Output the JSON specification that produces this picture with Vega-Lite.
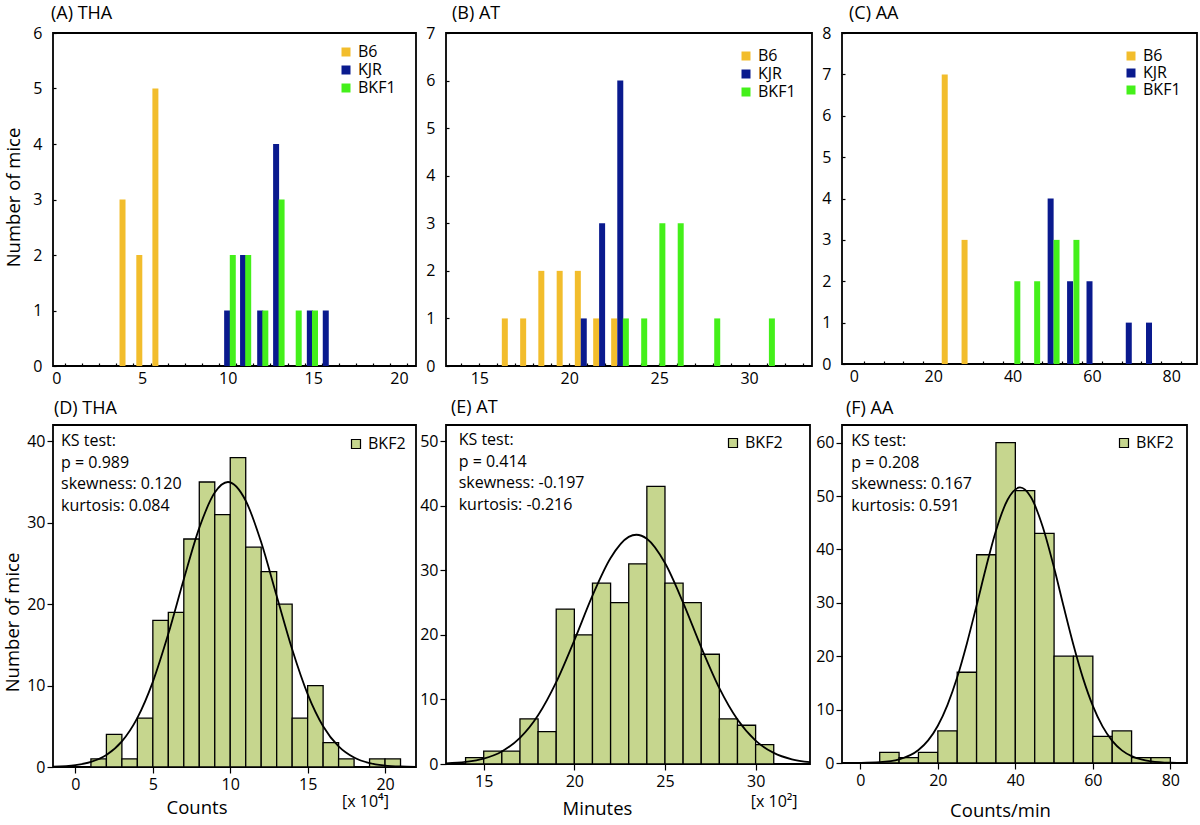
{
  "$schema": "https://vega.github.io/schema/vega-lite/v6.json",
  "background": "white",
  "padding": {"left": 2, "top": 3, "right": 0, "bottom": 0},
  "columns": 3,
  "spacing": {"row": 59, "column": 30},
  "bounds": "flush",
  "align": "each",
  "resolve": {"scale": {"color": "independent"}, "legend": {"color": "independent"}},
  "config": {
    "font": "Open Sans",
    "view": {"stroke": "black", "strokeWidth": 1.8},
    "axis": {"domain": false, "grid": false, "tickColor": "black", "tickWidth": 1.2, "labelColor": "black", "labelFont": "Open Sans", "labelFontSize": 16, "titleFont": "Open Sans", "titleFontSize": 18.5, "titleFontWeight": "normal", "titleColor": "black", "labelFlush": false, "labelOverlap": false},
    "legend": {"orient": "none", "labelFont": "Open Sans", "labelFontSize": 16, "labelColor": "black", "symbolType": "square", "symbolSize": 81, "rowPadding": 2},
    "title": {"font": "Open Sans", "fontSize": 18, "fontWeight": "normal", "color": "black", "anchor": "start", "frame": "group", "baseline": "alphabetic"}
  },
  "datasets": {
    "tha1": [
      {"strain": "B6", "x": 3.86, "n": 3}, {"strain": "B6", "x": 4.84, "n": 2}, {"strain": "B6", "x": 5.78, "n": 5},
      {"strain": "KJR", "x": 9.97, "n": 1}, {"strain": "KJR", "x": 10.9, "n": 2}, {"strain": "KJR", "x": 11.9, "n": 1}, {"strain": "KJR", "x": 12.83, "n": 4}, {"strain": "KJR", "x": 14.8, "n": 1}, {"strain": "KJR", "x": 15.73, "n": 1},
      {"strain": "BKF1", "x": 10.3, "n": 2}, {"strain": "BKF1", "x": 11.2, "n": 2}, {"strain": "BKF1", "x": 12.2, "n": 1}, {"strain": "BKF1", "x": 13.15, "n": 3}, {"strain": "BKF1", "x": 14.15, "n": 1}, {"strain": "BKF1", "x": 15.1, "n": 1}
    ],
    "at1": [
      {"strain": "B6", "x": 16.42, "n": 1}, {"strain": "B6", "x": 17.44, "n": 1}, {"strain": "B6", "x": 18.45, "n": 2}, {"strain": "B6", "x": 19.47, "n": 2}, {"strain": "B6", "x": 20.48, "n": 2}, {"strain": "B6", "x": 21.5, "n": 1}, {"strain": "B6", "x": 22.5, "n": 1},
      {"strain": "KJR", "x": 20.81, "n": 1}, {"strain": "KJR", "x": 21.83, "n": 3}, {"strain": "KJR", "x": 22.84, "n": 6},
      {"strain": "BKF1", "x": 23.15, "n": 1}, {"strain": "BKF1", "x": 24.17, "n": 1}, {"strain": "BKF1", "x": 25.18, "n": 3}, {"strain": "BKF1", "x": 26.2, "n": 3}, {"strain": "BKF1", "x": 28.23, "n": 1}, {"strain": "BKF1", "x": 31.27, "n": 1}
    ],
    "aa1": [
      {"strain": "B6", "x": 22.9, "n": 7}, {"strain": "B6", "x": 27.9, "n": 3},
      {"strain": "KJR", "x": 49.6, "n": 4}, {"strain": "KJR", "x": 54.5, "n": 2}, {"strain": "KJR", "x": 59.4, "n": 2}, {"strain": "KJR", "x": 69.3, "n": 1}, {"strain": "KJR", "x": 74.4, "n": 1},
      {"strain": "BKF1", "x": 41.2, "n": 2}, {"strain": "BKF1", "x": 46.2, "n": 2}, {"strain": "BKF1", "x": 51.1, "n": 3}, {"strain": "BKF1", "x": 56.1, "n": 3}
    ],
    "tha2": [
      {"x": 1, "x2": 2, "y": 1}, {"x": 2, "x2": 3, "y": 4}, {"x": 3, "x2": 4, "y": 1}, {"x": 4, "x2": 5, "y": 6}, {"x": 5, "x2": 6, "y": 18},
      {"x": 6, "x2": 7, "y": 19}, {"x": 7, "x2": 8, "y": 28}, {"x": 8, "x2": 9, "y": 35}, {"x": 9, "x2": 10, "y": 31}, {"x": 10, "x2": 11, "y": 38},
      {"x": 11, "x2": 12, "y": 27}, {"x": 12, "x2": 13, "y": 24}, {"x": 13, "x2": 14, "y": 20}, {"x": 14, "x2": 15, "y": 6}, {"x": 15, "x2": 16, "y": 10},
      {"x": 16, "x2": 17, "y": 3}, {"x": 17, "x2": 18, "y": 1}, {"x": 19, "x2": 20, "y": 1}, {"x": 20, "x2": 21, "y": 1}
    ],
    "tha2c": [
      {"x": -1.45, "y": 0.05}, {"x": 0, "y": 0.24}, {"x": 1, "y": 0.63}, {"x": 2, "y": 1.48}, {"x": 3, "y": 3.14}, {"x": 4, "y": 6.03},
      {"x": 5, "y": 10.46}, {"x": 6, "y": 16.35}, {"x": 7, "y": 23.06}, {"x": 8, "y": 29.36}, {"x": 9, "y": 33.7}, {"x": 9.85, "y": 35},
      {"x": 11, "y": 32.7}, {"x": 12, "y": 27.6}, {"x": 13, "y": 21.0}, {"x": 14, "y": 14.46}, {"x": 15, "y": 8.96}, {"x": 16, "y": 5.01},
      {"x": 17, "y": 2.53}, {"x": 18, "y": 1.16}, {"x": 19, "y": 0.47}, {"x": 20, "y": 0.18}, {"x": 21, "y": 0.06}, {"x": 22, "y": 0.02}
    ],
    "tha2t": [
      {"x": -0.93, "y": 39.37, "t": "KS test:\np = 0.989\nskewness: 0.120\nkurtosis: 0.084"},
      {"x": 17.22, "y": -4.91, "t": "[x 10⁴]"}
    ],
    "at2": [
      {"x": 14, "x2": 15, "y": 1}, {"x": 15, "x2": 16, "y": 2}, {"x": 16, "x2": 17, "y": 2}, {"x": 17, "x2": 18, "y": 7}, {"x": 18, "x2": 19, "y": 5},
      {"x": 19, "x2": 20, "y": 24}, {"x": 20, "x2": 21, "y": 20}, {"x": 21, "x2": 22, "y": 28}, {"x": 22, "x2": 23, "y": 25}, {"x": 23, "x2": 24, "y": 31},
      {"x": 24, "x2": 25, "y": 43}, {"x": 25, "x2": 26, "y": 28}, {"x": 26, "x2": 27, "y": 25}, {"x": 27, "x2": 28, "y": 17}, {"x": 28, "x2": 29, "y": 7},
      {"x": 29, "x2": 30, "y": 6}, {"x": 30, "x2": 31, "y": 3}
    ],
    "at2c": [
      {"x": 12.92, "y": 0.11}, {"x": 14, "y": 0.33}, {"x": 15, "y": 0.84}, {"x": 16, "y": 1.95}, {"x": 17, "y": 4.04}, {"x": 18, "y": 7.54},
      {"x": 19, "y": 12.67}, {"x": 20, "y": 19.16}, {"x": 21, "y": 26.07}, {"x": 22, "y": 31.9}, {"x": 23, "y": 35.17}, {"x": 23.42, "y": 35.5},
      {"x": 24, "y": 34.88}, {"x": 25, "y": 31.12}, {"x": 26, "y": 24.99}, {"x": 27, "y": 18.07}, {"x": 28, "y": 11.75}, {"x": 29, "y": 6.88},
      {"x": 30, "y": 3.62}, {"x": 31, "y": 1.72}, {"x": 32, "y": 0.73}, {"x": 33, "y": 0.28}
    ],
    "at2t": [
      {"x": 13.62, "y": 49.34, "t": "KS test:\np = 0.414\nskewness: -0.197\nkurtosis: -0.216"},
      {"x": 29.73, "y": -6.66, "t": "[x 10²]"}
    ],
    "aa2": [
      {"x": 5, "x2": 10, "y": 2}, {"x": 10, "x2": 15, "y": 1}, {"x": 15, "x2": 20, "y": 2}, {"x": 20, "x2": 25, "y": 6}, {"x": 25, "x2": 30, "y": 17},
      {"x": 30, "x2": 35, "y": 39}, {"x": 35, "x2": 40, "y": 60}, {"x": 40, "x2": 45, "y": 51}, {"x": 45, "x2": 50, "y": 43}, {"x": 50, "x2": 55, "y": 20},
      {"x": 55, "x2": 60, "y": 20}, {"x": 60, "x2": 65, "y": 5}, {"x": 65, "x2": 70, "y": 6}, {"x": 70, "x2": 75, "y": 1}, {"x": 75, "x2": 80, "y": 1}
    ],
    "aa2c": [
      {"x": -4.7, "y": 0.0}, {"x": 0, "y": 0.03}, {"x": 5, "y": 0.15}, {"x": 10, "y": 0.68}, {"x": 15, "y": 2.43}, {"x": 17.5, "y": 4.23},
      {"x": 20, "y": 6.98}, {"x": 22.5, "y": 10.9}, {"x": 25, "y": 16.05}, {"x": 27.5, "y": 22.4}, {"x": 30, "y": 29.5}, {"x": 32.5, "y": 36.8},
      {"x": 35, "y": 43.5}, {"x": 38, "y": 49.3}, {"x": 41.2, "y": 51.6}, {"x": 44, "y": 49.8}, {"x": 47, "y": 44.4}, {"x": 50, "y": 36.56},
      {"x": 52.5, "y": 29.2}, {"x": 55, "y": 22.1}, {"x": 57.5, "y": 15.8}, {"x": 60, "y": 10.7}, {"x": 62.5, "y": 6.85}, {"x": 65, "y": 4.15},
      {"x": 67.5, "y": 2.37}, {"x": 70, "y": 1.29}, {"x": 72.5, "y": 0.66}, {"x": 75, "y": 0.32}, {"x": 80, "y": 0.06}, {"x": 84.3, "y": 0.01}
    ],
    "aa2t": [
      {"x": -2.33, "y": 59.29, "t": "KS test:\np = 0.208\nskewness: 0.167\nkurtosis: 0.591"}
    ]
  },
  "concat": [
    {
      "width": 363, "height": 333,
      "title": {"text": "(A) THA", "offset": 2.5, "dx": -2},
      "data": {"name": "tha1"},
      "mark": {"type": "bar", "size": 6, "orient": "vertical"},
      "encoding": {
        "x": {"field": "x", "type": "quantitative", "scale": {"domain": [-0.2, 21], "nice": false, "zero": false, "padding": 0},
          "axis": {"title": null, "values": [0,0.5,1,1.5,2,2.5,3,3.5,4,4.5,5,5.5,6,6.5,7,7.5,8,8.5,9,9.5,10,10.5,11,11.5,12,12.5,13,13.5,14,14.5,15,15.5,16,16.5,17,17.5,18,18.5,19,19.5,20,20.5],
            "labelExpr": "datum.value % 5 === 0 ? '' + datum.value : ''", "tickSize": -3, "labelPadding": 7.8,
            "tickOpacity": {"condition": {"test": "datum.value % 1 !== 0", "value": 1}, "value": 0}}},
        "y": {"field": "n", "type": "quantitative", "scale": {"domain": [0, 6], "nice": false},
          "axis": {"title": "Number of mice", "values": [0,1,2,3,4,5,6], "tickSize": -3, "labelPadding": 14, "titleX": -34, "titleY": 164, "titleBaseline": "alphabetic"}},
        "color": {"field": "strain", "type": "nominal", "scale": {"domain": ["B6", "KJR", "BKF1"], "range": ["#f2bd2c", "#0a1a8e", "#44f01a"]},
          "legend": {"title": null, "legendX": 285, "legendY": 11, "labelFontSize": 16, "symbolSize": 81, "symbolType": "square", "rowPadding": 2}}
      }
    },
    {
      "width": 366, "height": 333,
      "title": {"text": "(B) AT", "offset": 2.5, "dx": 6},
      "data": {"name": "at1"},
      "mark": {"type": "bar", "size": 6, "orient": "vertical"},
      "encoding": {
        "x": {"field": "x", "type": "quantitative", "scale": {"domain": [13.15, 33.5], "nice": false, "zero": false, "padding": 0},
          "axis": {"title": null, "values": [14,15,16,17,18,19,20,21,22,23,24,25,26,27,28,29,30,31,32,33],
            "labelExpr": "datum.value % 5 === 0 ? '' + datum.value : ''", "tickSize": -3, "labelPadding": 7.8}},
        "y": {"field": "n", "type": "quantitative", "scale": {"domain": [0, 7], "nice": false},
          "axis": {"title": null, "values": [0,1,2,3,4,5,6,7], "tickSize": -3, "labelPadding": 14}},
        "color": {"field": "strain", "type": "nominal", "scale": {"domain": ["B6", "KJR", "BKF1"], "range": ["#f2bd2c", "#0a1a8e", "#44f01a"]},
          "legend": {"title": null, "legendX": 292, "legendY": 15, "labelFontSize": 16, "symbolSize": 81, "symbolType": "square", "rowPadding": 2}}
      }
    },
    {
      "width": 355, "height": 331,
      "title": {"text": "(C) AA", "offset": 2.5, "dx": 7},
      "data": {"name": "aa1"},
      "mark": {"type": "bar", "size": 6, "orient": "vertical"},
      "encoding": {
        "x": {"field": "x", "type": "quantitative", "scale": {"domain": [-3, 86.5], "nice": false, "zero": false, "padding": 0},
          "axis": {"title": null, "values": [0,2.5,7.5,12.5,17.5,20,22.5,27.5,32.5,37.5,40,42.5,47.5,52.5,57.5,60,62.5,67.5,72.5,77.5,80,82.5],
            "labelExpr": "datum.value % 20 === 0 ? '' + datum.value : ''", "tickSize": -3, "labelPadding": 7.8,
            "tickOpacity": {"condition": {"test": "datum.value % 5 !== 0", "value": 1}, "value": 0}}},
        "y": {"field": "n", "type": "quantitative", "scale": {"domain": [0, 8], "nice": false},
          "axis": {"title": null, "values": [0,1,2,3,4,5,6,7,8], "tickSize": -3, "labelPadding": 14}},
        "color": {"field": "strain", "type": "nominal", "scale": {"domain": ["B6", "KJR", "BKF1"], "range": ["#f2bd2c", "#0a1a8e", "#44f01a"]},
          "legend": {"title": null, "legendX": 281, "legendY": 15, "labelFontSize": 16, "symbolSize": 81, "symbolType": "square", "rowPadding": 1}}
      }
    },
    {
      "width": 363, "height": 342,
      "title": {"text": "(D) THA", "offset": 7, "dx": 1},
      "encoding": {
        "x": {"field": "x", "type": "quantitative", "scale": {"domain": [-1.45, 22], "nice": false, "zero": false},
          "axis": {"title": "Counts", "values": [0,5,10,15,20], "tickSize": 6, "labelPadding": 3.8, "titleX": 143.5, "titleY": 46, "titleBaseline": "alphabetic"}},
        "y": {"field": "y", "type": "quantitative", "scale": {"domain": [0, 42], "nice": false},
          "axis": {"title": "Number of mice", "values": [0,10,20,30,40], "tickSize": 6, "labelPadding": 2, "titleX": -35, "titleY": 197, "titleBaseline": "alphabetic"}}
      },
      "layer": [
        {"data": {"name": "tha2"}, "mark": {"type": "bar", "stroke": "black", "strokeWidth": 1.3},
          "encoding": {"x2": {"field": "x2"}, "y2": {"datum": 0}, "color": {"datum": "BKF2", "type": "nominal", "scale": {"range": ["#c6d68e"]},
            "legend": {"title": null, "legendX": 295, "legendY": 11, "labelFontSize": 16, "symbolSize": 81, "symbolType": "square", "symbolStrokeColor": "black", "symbolStrokeWidth": 1.2}}}},
        {"data": {"name": "tha2c"}, "mark": {"type": "line", "color": "black", "strokeWidth": 1.8, "interpolate": "monotone"}, "encoding": {}},
        {"data": {"name": "tha2t"}, "mark": {"type": "text", "align": "left", "baseline": "alphabetic", "fontSize": 16, "lineHeight": 21.5, "lineBreak": "\n", "color": "black"},
          "encoding": {"text": {"field": "t"}}}
      ]
    },
    {
      "width": 364, "height": 339,
      "title": {"text": "(E) AT", "offset": 8, "dx": 5},
      "encoding": {
        "x": {"field": "x", "type": "quantitative", "scale": {"domain": [12.92, 33.0], "nice": false, "zero": false},
          "axis": {"title": "Minutes", "values": [15,20,25,30], "tickSize": 6, "labelPadding": 3.8, "titleX": 151, "titleY": 50, "titleBaseline": "alphabetic"}},
        "y": {"field": "y", "type": "quantitative", "scale": {"domain": [0, 52.5], "nice": false},
          "axis": {"title": null, "values": [0,10,20,30,40,50], "tickSize": 6, "labelPadding": 2}}
      },
      "layer": [
        {"data": {"name": "at2"}, "mark": {"type": "bar", "stroke": "black", "strokeWidth": 1.3},
          "encoding": {"x2": {"field": "x2"}, "y2": {"datum": 0}, "color": {"datum": "BKF2", "type": "nominal", "scale": {"range": ["#c6d68e"]},
            "legend": {"title": null, "legendX": 279, "legendY": 10, "labelFontSize": 16, "symbolSize": 81, "symbolType": "square", "symbolStrokeColor": "black", "symbolStrokeWidth": 1.2}}}},
        {"data": {"name": "at2c"}, "mark": {"type": "line", "color": "black", "strokeWidth": 1.8, "interpolate": "monotone"}, "encoding": {}},
        {"data": {"name": "at2t"}, "mark": {"type": "text", "align": "left", "baseline": "alphabetic", "fontSize": 16, "lineHeight": 21.5, "lineBreak": "\n", "color": "black"},
          "encoding": {"text": {"field": "t"}}}
      ]
    },
    {
      "width": 345, "height": 338,
      "title": {"text": "(F) AA", "offset": 7, "dx": 4},
      "encoding": {
        "x": {"field": "x", "type": "quantitative", "scale": {"domain": [-4.73, 84.3], "nice": false, "zero": false},
          "axis": {"title": "Counts/min", "values": [0,20,40,60,80], "tickSize": 6, "labelPadding": 3.8, "titleX": 158, "titleY": 53, "titleBaseline": "alphabetic"}},
        "y": {"field": "y", "type": "quantitative", "scale": {"domain": [0, 63.3], "nice": false},
          "axis": {"title": null, "values": [0,10,20,30,40,50,60], "tickSize": 6, "labelPadding": 2}}
      },
      "layer": [
        {"data": {"name": "aa2"}, "mark": {"type": "bar", "stroke": "black", "strokeWidth": 1.3},
          "encoding": {"x2": {"field": "x2"}, "y2": {"datum": 0}, "color": {"datum": "BKF2", "type": "nominal", "scale": {"range": ["#c6d68e"]},
            "legend": {"title": null, "legendX": 274, "legendY": 10, "labelFontSize": 16, "symbolSize": 81, "symbolType": "square", "symbolStrokeColor": "black", "symbolStrokeWidth": 1.2}}}},
        {"data": {"name": "aa2c"}, "mark": {"type": "line", "color": "black", "strokeWidth": 1.8, "interpolate": "monotone"}, "encoding": {}},
        {"data": {"name": "aa2t"}, "mark": {"type": "text", "align": "left", "baseline": "alphabetic", "fontSize": 16, "lineHeight": 21.5, "lineBreak": "\n", "color": "black"},
          "encoding": {"text": {"field": "t"}}}
      ]
    }
  ]
}
